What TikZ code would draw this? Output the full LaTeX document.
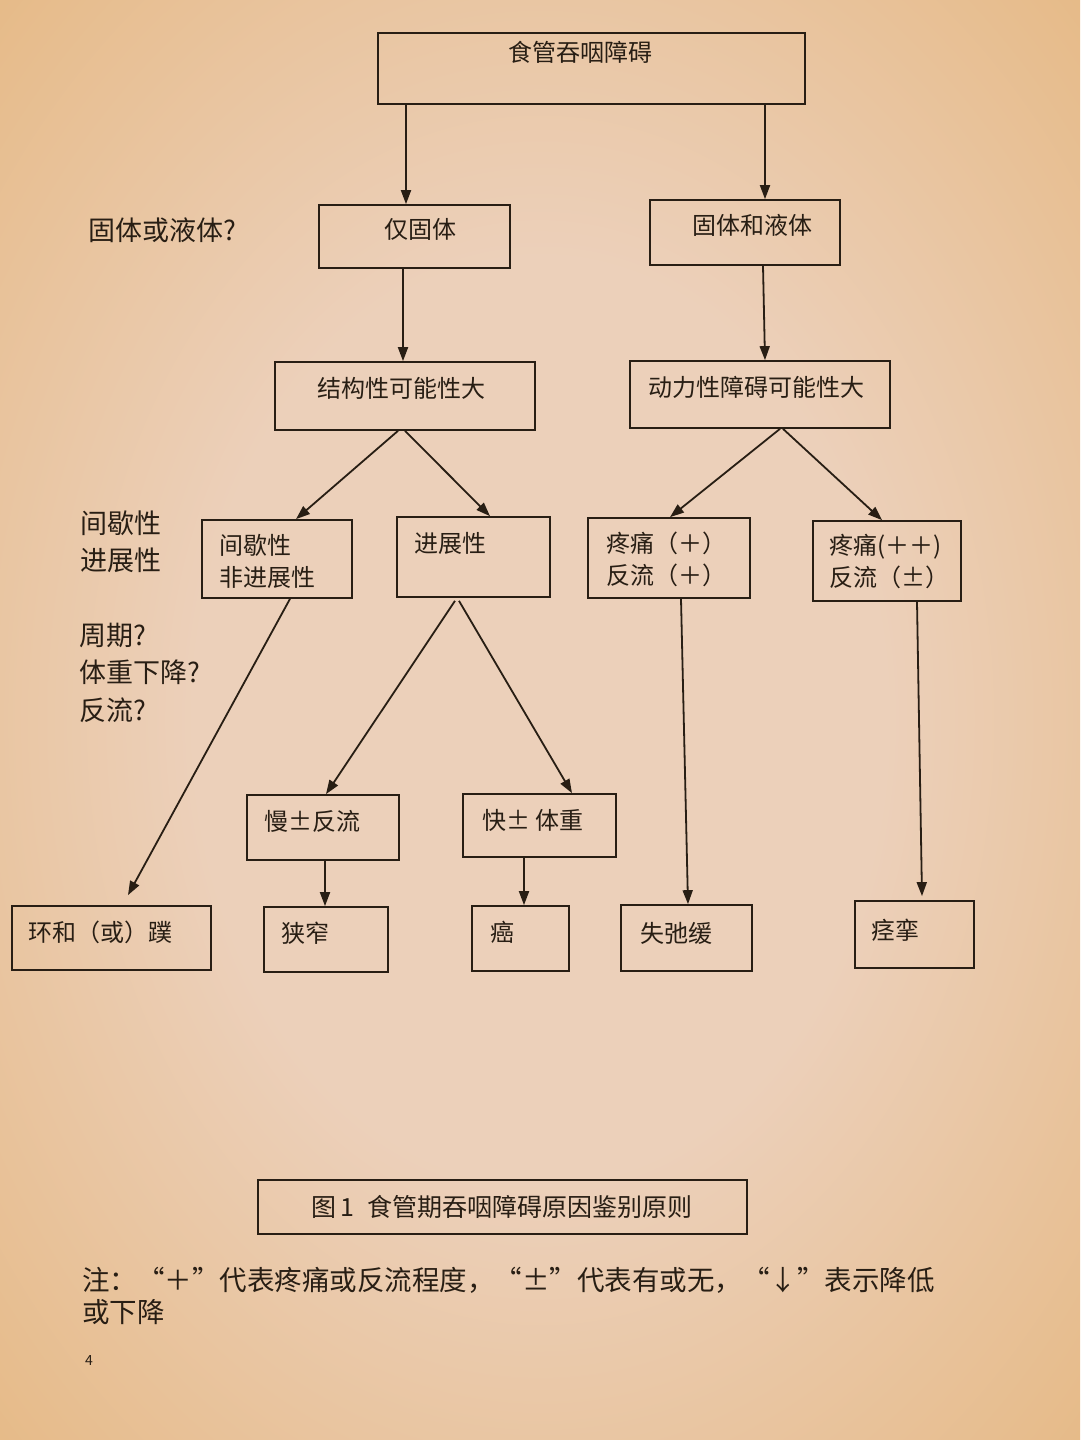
\documentclass[tikz,border=0pt]{standalone}
\usepackage{fontspec}
\setmainfont{Liberation Serif}
\newfontfamily\cjk{Noto Sans CJK SC}
\usetikzlibrary{arrows.meta,fit}
\definecolor{bgA}{RGB}{236,208,186}
\definecolor{bgB}{RGB}{230,186,135}
\definecolor{bgC}{RGB}{212,150,62}
\definecolor{ink}{RGB}{40,30,20}
\pgfdeclareradialshading{pagebg}{\pgfpoint{0bp}{0bp}}{color(0bp)=(bgA); color(16bp)=(bgA); color(36bp)=(bgB); color(54bp)=(bgC); color(75bp)=(bgC)}
\begin{document}
\begin{tikzpicture}[x=1pt,y=-1pt,
  box/.style={draw=ink, line width=1.7pt, inner sep=0pt},
  t/.style={font=\cjk\fontsize{24}{32}\selectfont, text=ink, inner sep=0pt},
  tl/.style={t, anchor=west, align=left},
  side/.style={font=\cjk\fontsize{27}{37.5}\selectfont, text=ink, inner sep=0pt, anchor=west, align=left},
  arr/.style={draw=ink, line width=1.8pt, -{Triangle[length=14pt,width=10pt]}}]
\useasboundingbox (0,0) rectangle (1080,1440);
\shade[shading=pagebg] (0,0) rectangle (1080,1440);

% boxes
\node[box, fit={(378,33) (805,104)}] (top) {};
\node[box, fit={(319,205) (510,268)}] (solid) {};
\node[box, fit={(650,200) (840,265)}] (both) {};
\node[box, fit={(275,362) (535,430)}] (struct) {};
\node[box, fit={(630,361) (890,428)}] (motor) {};
\node[box, fit={(202,520) (352,598)}] (inter) {};
\node[box, fit={(397,517) (550,597)}] (prog) {};
\node[box, fit={(588,518) (750,598)}] (pain1) {};
\node[box, fit={(813,521) (961,601)}] (pain2) {};
\node[box, fit={(247,795) (399,860)}] (slow) {};
\node[box, fit={(463,794) (616,857)}] (fast) {};
\node[box, fit={(12,906) (211,970)}] (ring) {};
\node[box, fit={(264,907) (388,972)}] (narrow) {};
\node[box, fit={(472,906) (569,971)}] (cancer) {};
\node[box, fit={(621,905) (752,971)}] (achal) {};
\node[box, fit={(855,901) (974,968)}] (spasm) {};
\node[box, fit={(258,1180) (747,1234)}] (capbox) {};

% box texts
\node[t] (ltop) at (580,52) {食管吞咽障碍};
\node[t] (lsolid) at (420,229) {仅固体};
\node[t] (lboth) at (752,225) {固体和液体};
\node[t] (lstruct) at (401,388) {结构性可能性大};
\node[t] (lmotor) at (756,387) {动力性障碍可能性大};
\node[tl] (linter) at (219,561) {间歇性\\非进展性};
\node[tl] (lprog) at (414,543) {进展性};
\node[tl] (lpain1) at (606,559.5) {疼痛（＋）\\反流（＋）};
\node[tl] (lpain2) at (829,561.5) {疼痛(＋＋)\\反流（±）};
\node[tl] (lslow) at (264,821) {慢±反流};
\node[tl] (lfast) at (482,820) {快± 体重};
\node[tl] (lring) at (28,932) {环和（或）蹼};
\node[tl] (lnarrow) at (281,933) {狭窄};
\node[tl] (lcancer) at (490,932) {癌};
\node[tl] (lachal) at (640,933) {失弛缓};
\node[tl] (lspasm) at (871,930) {痉挛};
\node[t, font=\cjk\fontsize{25}{30}\selectfont] (lcap) at (502,1207) {图\,1\hspace{0.5em}食管期吞咽障碍原因鉴别原则};

% side labels
\node[side] (q1) at (88,230) {固体或液体?};
\node[side] (q2) at (80,541.5) {间歇性\\进展性};
\node[side] (q3) at (79,672.5) {周期?\\体重下降?\\反流?};

% note
\node[font=\cjk\fontsize{27.5}{32}\selectfont, text=ink, inner sep=0pt, anchor=west, align=left] (note) at (82,1296)
  {注：“＋”代表疼痛或反流程度，“±”代表有或无，“↓”表示降低\\或下降};
\node[font=\cjk\fontsize{14}{16}\selectfont, text=ink, inner sep=0pt] (pg) at (89,1360) {4};

% arrows
\draw[arr] ([xshift=-185.5pt]top.south) -- ([xshift=-8.5pt]solid.north);
\draw[arr] ([xshift=173.5pt]top.south) -- ([xshift=20pt]both.north);
\draw[arr] ([xshift=-11.5pt]solid.south) -- ([xshift=-2pt]struct.north);
\draw[arr] ([xshift=18pt]both.south) -- ([xshift=5pt]motor.north);
\draw[arr] ([xshift=-7pt]struct.south) -- ([xshift=19pt]inter.north);
\draw[arr] (struct.south) -- ([xshift=16.5pt]prog.north);
\draw[arr] ([xshift=20pt]motor.south) -- ([xshift=1pt]pain1.north);
\draw[arr] ([xshift=23pt]motor.south) -- ([xshift=-5pt]pain2.north);
\draw[arr] ([xshift=13pt]inter.south) -- ([xshift=16.5pt,yshift=10pt]ring.north);
\draw[arr] ([xshift=-18.5pt,yshift=-3pt]prog.south) -- ([xshift=3pt]slow.north);
\draw[arr] ([xshift=-14.5pt,yshift=-3pt]prog.south) -- ([xshift=32.5pt]fast.north);
\draw[arr] ([xshift=2pt]slow.south) -- ([xshift=-1pt]narrow.north);
\draw[arr] ([xshift=-15.5pt]fast.south) -- ([xshift=3.5pt]cancer.north);
\draw[arr] ([xshift=12pt]pain1.south) -- ([xshift=1.5pt]achal.north);
\draw[arr] ([xshift=30pt]pain2.south) -- ([xshift=7.5pt,yshift=4pt]spasm.north);
\end{tikzpicture}
\end{document}
